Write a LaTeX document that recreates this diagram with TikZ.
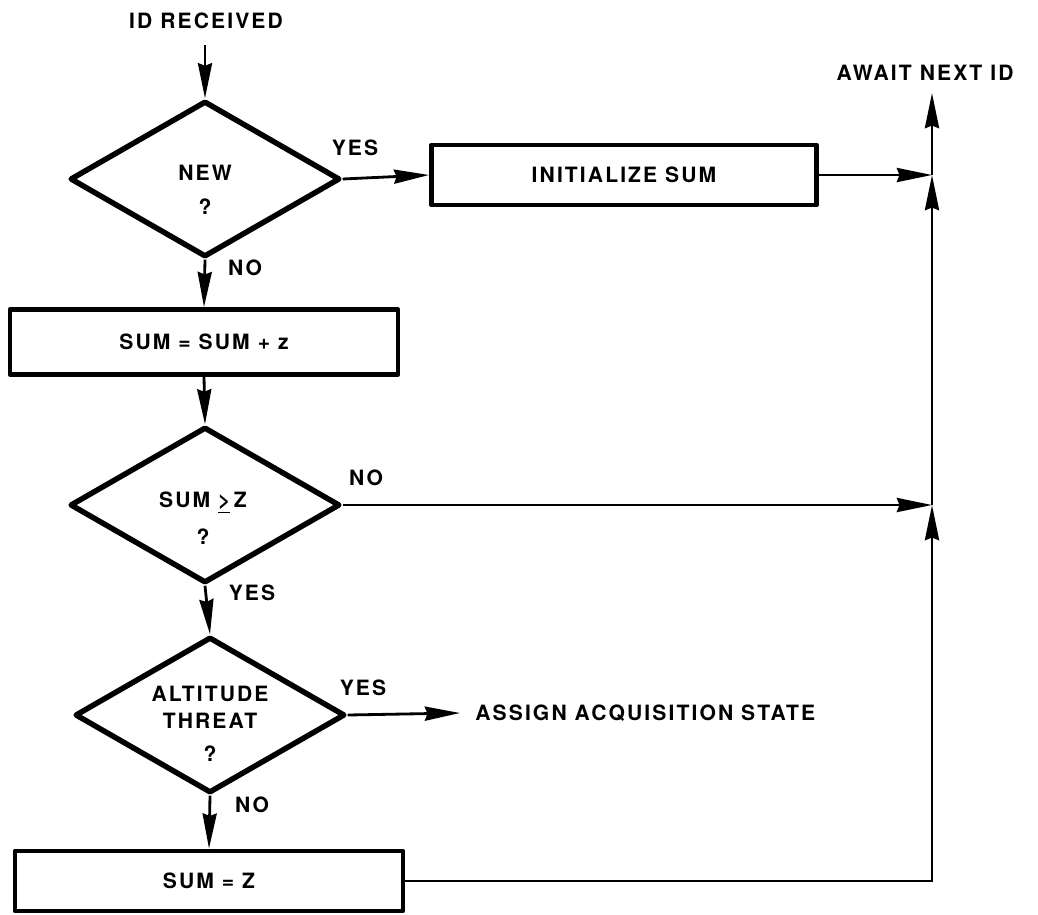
\documentclass[tikz,border=0pt]{standalone}
\usepackage{fontspec}
\setmainfont{TeX Gyre Heros}[LetterSpace=10]
\usetikzlibrary{shapes.geometric,arrows.meta}
\begin{document}
\begin{tikzpicture}[x=0.02cm,y=-0.02cm,
  every node/.style={font=\bfseries\fontsize{12}{14}\selectfont},
  dec/.style={diamond,draw,line width=3.1pt,line join=round,minimum width=5.4cm,minimum height=3.12cm,inner sep=0pt},
  proc/.style={rectangle,draw,line width=2.8pt,line join=round,inner sep=0pt},
  lbl/.style={inner sep=1pt},
  conn/.style={line width=1.6pt,-{Stealth[length=20pt,width=8pt,inset=1.5pt]}},
  plain/.style={line width=1.6pt}]
\useasboundingbox (0,0) rectangle (1038,914);

% start / end labels
\node[lbl] (idr) at (206,21) {ID RECEIVED};
\coordinate (s0) at (205,45);
\node[lbl] (aw) at (925,73) {AWAIT NEXT ID};

% decision 1
\node[dec] (d1) at (205,179) {};
\node[lbl,align=center,font=\bfseries\fontsize{12}{19.3}\selectfont] (t1) at (205,190) {NEW\\?};
\node[proc,minimum width=7.7cm,minimum height=1.2cm] (b1) at (624,175) {INITIALIZE SUM};

% process 2
\node[proc,minimum width=7.76cm,minimum height=1.3cm] (b2) at (204,342) {SUM = SUM + z};

% decision 2
\node[dec] (d2) at (205,505) {};
\node[lbl,align=center,font=\bfseries\fontsize{12}{21}\selectfont] (t2) at (203,518) {SUM \underline{>}\,Z\\?};

% decision 3
\node[dec] (d3) at (210,715) {};
\node[lbl,align=center,font=\bfseries\fontsize{12}{15.3}\selectfont] (t3) at (210,724) {ALTITUDE\\THREAT\\[3.4pt]?};
\node[anchor=west,inner sep=0pt] (as) at (475,713) {ASSIGN ACQUISITION STATE};

% process 3
\node[proc,minimum width=7.76cm,minimum height=1.2cm] (b3) at (209,881) {SUM = Z};

% junctions on the return line
\coordinate (top) at (932,93);
\coordinate (j1) at (932,175);
\coordinate (j2) at (932,505);

% branch labels
\node[lbl] (y1) at (355,148) {YES};
\node[lbl] (n1) at (245,268) {NO};
\node[lbl] (n2) at (366,478) {NO};
\node[lbl] (y2) at (252,593) {YES};
\node[lbl] (y3) at (363,688) {YES};
\node[lbl] (n3) at (252,805) {NO};

% connectors
\draw[conn] (s0) -- (d1.north);
\draw[conn] (d1.east) -- (b1.west);
\draw[conn] (b1.east) -- (j1);
\draw[conn] (d1.south) -- (b2.north);
\draw[conn] (b2.south) -- (d2.north);
\draw[conn] (d2.east) -- (j2);
\draw[conn] (d2.south) -- (d3.north);
\draw[conn] (d3.east) -- ([xshift=-0.3cm]as.west);
\draw[conn] (d3.south) -- (b3.north);
\draw[conn] (b3.east) -| (j2);
\draw[conn] (j2) -- (j1);
\draw[conn] (j1) -- (top);
\end{tikzpicture}
\end{document}
